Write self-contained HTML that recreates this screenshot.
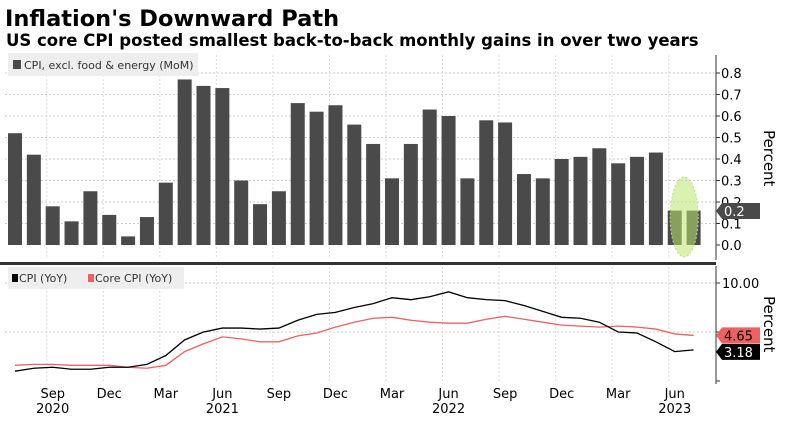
<!DOCTYPE html>
<html><head><meta charset="utf-8"><style>
body{margin:0;background:#fff;width:786px;height:416px;overflow:hidden;font-family:"Liberation Sans",sans-serif}
svg text{font-family:"DejaVu Sans","Liberation Sans",sans-serif}
</style></head><body>
<svg id="c" width="786" height="416" xmlns="http://www.w3.org/2000/svg">
<text x="5" y="26" font-size="22.5" font-weight="bold" fill="#000">Inflation's Downward Path</text>
<text x="6" y="46" font-size="16.5" font-weight="bold" fill="#000">US core CPI posted smallest back-to-back monthly gains in over two years</text>
<g id="grid"></g>
<rect x="8" y="53" width="190" height="23" fill="#eeeeee"/>
<rect x="13" y="60" width="8" height="9" fill="#4a4a4a"/>
<text x="24" y="69" font-size="11" fill="#333">CPI, excl. food &amp; energy (MoM)</text>
<g id="bars"></g>
<rect x="0" y="262" width="716" height="3" fill="#333"/>
<rect x="8" y="267" width="176" height="22" fill="#eeeeee"/>
<rect x="12" y="274" width="6" height="8" fill="#000"/>
<text x="19" y="282" font-size="11" fill="#333">CPI (YoY)</text>
<rect x="88" y="274" width="6" height="8" fill="#f06060"/>
<text x="95" y="282" font-size="11" fill="#333">Core CPI (YoY)</text>
<g id="lines"></g>
<g id="axes"></g>
<text transform="translate(764,130) rotate(90)" font-size="15" fill="#000">Percent</text>
<text transform="translate(764,296) rotate(90)" font-size="15" fill="#000">Percent</text>
</svg>
<script>
const months=["Jul","Aug","Sep","Oct","Nov","Dec","Jan","Feb","Mar","Apr","May","Jun","Jul","Aug","Sep","Oct","Nov","Dec","Jan","Feb","Mar","Apr","May","Jun","Jul","Aug","Sep","Oct","Nov","Dec","Jan","Feb","Mar","Apr","May","Jun","Jul"];
const coreMoM=[0.52,0.42,0.18,0.11,0.25,0.14,0.04,0.13,0.29,0.77,0.74,0.73,0.30,0.19,0.25,0.66,0.62,0.65,0.56,0.47,0.31,0.47,0.63,0.60,0.31,0.58,0.57,0.33,0.31,0.40,0.41,0.45,0.38,0.41,0.43,0.16,0.16];
const cpiYoY=[1.0,1.3,1.4,1.2,1.2,1.4,1.4,1.7,2.6,4.2,5.0,5.4,5.4,5.3,5.4,6.2,6.8,7.0,7.5,7.9,8.5,8.3,8.6,9.1,8.5,8.3,8.2,7.7,7.1,6.5,6.4,6.0,5.0,4.9,4.0,3.0,3.18];
const coreYoY=[1.6,1.7,1.7,1.6,1.6,1.6,1.4,1.3,1.6,3.0,3.8,4.5,4.3,4.0,4.0,4.6,4.9,5.5,6.0,6.4,6.5,6.2,6.0,5.9,5.9,6.3,6.6,6.3,6.0,5.7,5.6,5.5,5.6,5.5,5.3,4.8,4.65];
const topTicks=[0.0,0.1,0.2,0.3,0.4,0.5,0.6,0.7,0.8];
const botTicks=[0,5,10];
const xLabels=[[2,"Sep","2020"],[5,"Dec",""],[8,"Mar",""],[11,"Jun","2021"],[14,"Sep",""],[17,"Dec",""],[20,"Mar",""],[23,"Jun","2022"],[26,"Sep",""],[29,"Dec",""],[32,"Mar",""],[35,"Jun","2023"]];
const NS="http://www.w3.org/2000/svg";
const X=i=>15+i*18.85;
const YT=v=>245-v*215;
const YB=v=>381-v*9.8;
function mk(p,t,a){const e=document.createElementNS(NS,t);for(const k in a)e.setAttribute(k,a[k]);document.getElementById(p).appendChild(e);return e;}
topTicks.forEach(v=>{if(v===0)return;const l=mk("grid","line",{x1:5,x2:716,y1:YT(v),y2:YT(v),stroke:"#ccc","stroke-dasharray":"2,2"});

});
botTicks.forEach(v=>{if(v===0)return;const l=mk("grid","line",{x1:5,x2:716,y1:YB(v),y2:YB(v),stroke:"#ccc","stroke-dasharray":"2,2"});

});
xLabels.forEach(d=>{const x=X(d[0])-6;
const l=mk("grid","line",{x1:x,x2:x,y1:55,y2:258,stroke:"#ddd","stroke-dasharray":"2,2"});


const l2=mk("grid","line",{x1:x,x2:x,y1:267,y2:382,stroke:"#ddd","stroke-dasharray":"2,2"});

});
coreMoM.forEach((v,i)=>{const r=mk("bars","rect",{x:X(i)-7,y:YT(v),width:14,height:YT(0)-YT(v),fill:"#4a4a4a"});

});
const el=mk("bars","ellipse",{cx:X(35.5),cy:217,rx:14,ry:40,fill:"rgba(190,230,110,0.55)",stroke:"#bde08a","stroke-dasharray":"2,2"});


const pts=a=>a.map((v,i)=>X(i)+","+YB(v)).join(" ");
const pc=mk("lines","polyline",{points:pts(coreYoY),fill:"none",stroke:"#f06060","stroke-width":1.3});


const pb=mk("lines","polyline",{points:pts(cpiYoY),fill:"none",stroke:"#000","stroke-width":1.3});


let a=mk("axes","line",{x1:716,x2:716,y1:55,y2:260,stroke:"#333"});


a=mk("axes","line",{x1:716,x2:716,y1:266,y2:384,stroke:"#333"});


topTicks.forEach(v=>{mk("axes","line",{x1:716,x2:720,y1:YT(v),y2:YT(v),stroke:"#333"});
const t=mk("axes","text",{x:721,y:YT(v)+5,"font-size":13,fill:"#000"});t.textContent=v.toFixed(1);

});
botTicks.forEach(v=>{mk("axes","line",{x1:716,x2:720,y1:YB(v),y2:YB(v),stroke:"#333"});
if(v===10){const t=mk("axes","text",{x:722,y:YB(v)+5,"font-size":13,fill:"#000"});t.textContent="10.00";

}});
xLabels.forEach(d=>{const t=mk("axes","text",{x:X(d[0]),y:398,"font-size":13,fill:"#000","text-anchor":"middle"});t.textContent=d[1];


if(d[2]){const y=mk("axes","text",{x:X(d[0]),y:413,"font-size":13,fill:"#000","text-anchor":"middle"});y.textContent=d[2];

}});
function tag(v,y,bg,fg,name,txt){const g=mk("axes","path",{d:`M716 ${y} L722 ${y-8} L760 ${y-8} L760 ${y+8} L722 ${y+8} Z`,fill:bg});


const t=mk("axes","text",{x:724,y:y+5,"font-size":13,fill:fg});t.textContent=txt;

}
tag(0,211,"#4a4a4a","#fff","last-bar-value-label","0.2");
tag(0,YB(coreYoY[coreYoY.length-1]),"#f06060","#000","core-cpi-value-label",coreYoY[coreYoY.length-1].toFixed(2));
tag(0,YB(cpiYoY[cpiYoY.length-1])+2,"#000","#fff","cpi-value-label",cpiYoY[cpiYoY.length-1].toFixed(2));
</script>
</body></html>
